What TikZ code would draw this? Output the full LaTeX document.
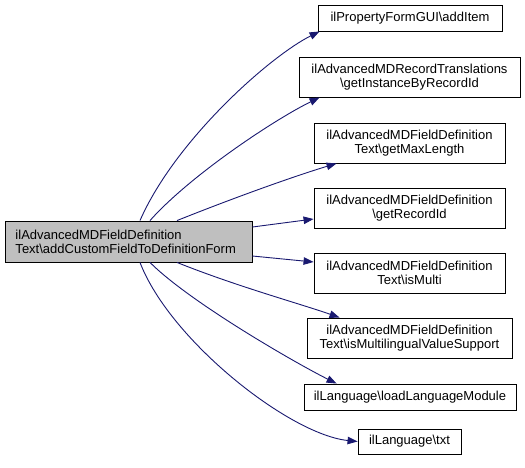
\documentclass[tikz,border=0pt]{standalone}
\usepackage{fontspec}
\setmainfont{Liberation Sans}
\usetikzlibrary{arrows.meta}
\definecolor{edgeblue}{HTML}{191970}
\definecolor{maingray}{HTML}{BFBFBF}
\tikzset{
  fnbox/.style={draw=black, line width=0.9pt, inner sep=0pt, align=center,
    font=\fontsize{13}{14}\selectfont, text=black},
  mainbox/.style={fnbox, fill=maingray, align=left},
  edge/.style={draw=edgeblue, line width=0.9pt, -{Triangle[length=10pt,width=7.5pt]}}
}
\begin{document}
\begin{tikzpicture}[x=1pt,y=-1pt]
\useasboundingbox (0,0) rectangle (525,467);
\node[mainbox, minimum width=247pt, minimum height=41pt, text width=226pt] (main) at (128.5,241.5)
  {ilAdvancedMDFieldDefinition\\Text\textbackslash{}addCustomFieldToDefinitionForm};
\node[fnbox, minimum width=184pt, minimum height=26pt] (n1) at (410,18)
  {ilPropertyFormGUI\textbackslash{}addItem};
\node[fnbox, minimum width=221pt, minimum height=40pt] (n2) at (409.5,77)
  {ilAdvancedMDRecordTranslations\\\textbackslash{}getInstanceByRecordId};
\node[fnbox, minimum width=191pt, minimum height=40pt] (n3) at (409.5,143)
  {ilAdvancedMDFieldDefinition\\Text\textbackslash{}getMaxLength};
\node[fnbox, minimum width=191pt, minimum height=40pt] (n4) at (409.5,208)
  {ilAdvancedMDFieldDefinition\\\textbackslash{}getRecordId};
\node[fnbox, minimum width=191pt, minimum height=40pt] (n5) at (409.5,273)
  {ilAdvancedMDFieldDefinition\\Text\textbackslash{}isMulti};
\node[fnbox, minimum width=205pt, minimum height=40pt] (n6) at (409.5,338)
  {ilAdvancedMDFieldDefinition\\Text\textbackslash{}isMultilingualValueSupport};
\node[fnbox, minimum width=212pt, minimum height=26pt] (n7) at (410,397)
  {ilLanguage\textbackslash{}loadLanguageModule};
\node[fnbox, minimum width=103pt, minimum height=25pt] (n8) at (409.5,441.5)
  {ilLanguage\textbackslash{}txt};

\draw[edge] ([xshift=11.5pt]main.north) .. controls +(35,-80) and +(-50,25) .. ([xshift=2pt]n1.south west);
\draw[edge] ([xshift=21.5pt]main.north) .. controls +(40,-45) and +(-45,22) .. ([xshift=21pt]n2.south west);
\draw[edge] ([xshift=48.5pt]main.north) .. controls +(60,-24) and +(-40,12) .. ([xshift=23pt]n3.south west);
\draw[edge] ([yshift=14.5pt]main.east) -- ([yshift=-11pt]n4.west);
\draw[edge] ([yshift=-14.5pt]main.east) -- ([yshift=11pt]n5.west);
\draw[edge] ([xshift=48.5pt]main.south) .. controls +(60,24) and +(-40,-14) .. ([xshift=33pt]n6.north west);
\draw[edge] ([xshift=21.5pt]main.south) .. controls +(40,40) and +(-40,-20) .. ([xshift=33pt]n7.north west);
\draw[edge] ([xshift=11.5pt]main.south) .. controls +(30,78) and +(-68,-7) .. (n8.west);
\end{tikzpicture}
\end{document}
